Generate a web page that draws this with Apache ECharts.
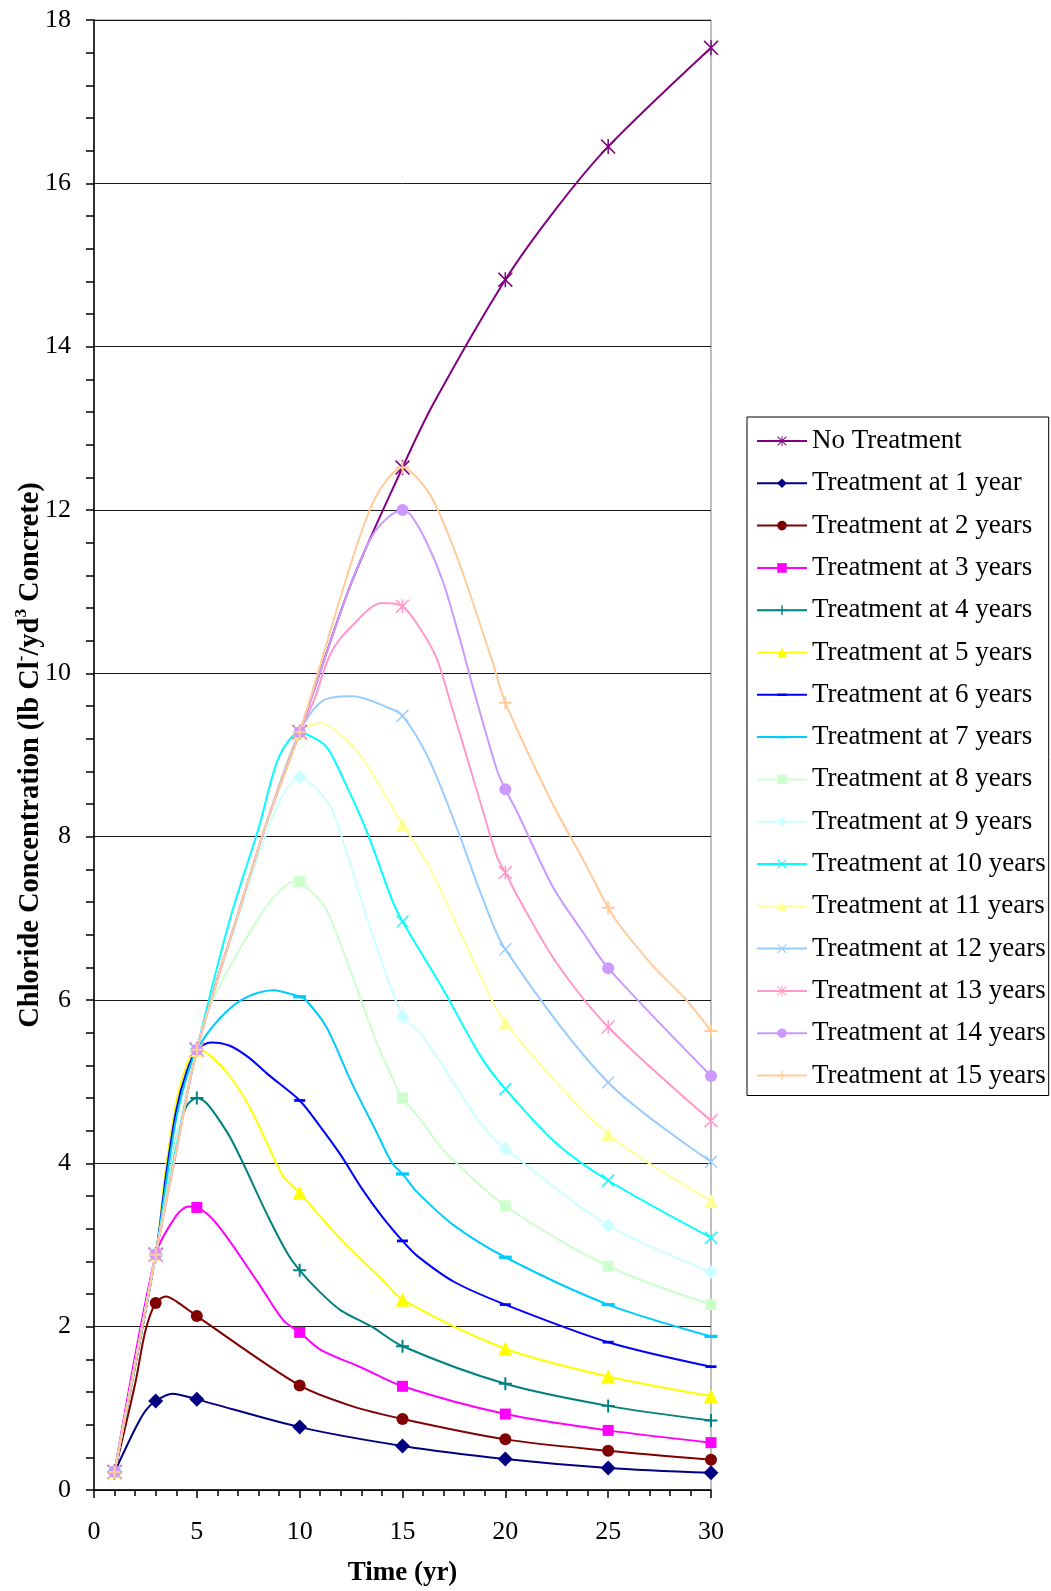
<!DOCTYPE html>
<html>
<head>
<meta charset="utf-8">
<script src="https://cdn.jsdelivr.net/npm/echarts/dist/echarts.min.js"></script>
<style>
  html, body { margin: 0; padding: 0; background: #ffffff; }
  #chart { width: 1051px; height: 1591px; }
</style>
</head>
<body>
<div id="chart"></div>
<script>
// Sample years that carry a marker on every curve
const years = [1, 3, 5, 10, 15, 20, 25, 30];

// Chloride concentration (lb Cl-/yd3) at the marker years
const noTreatment = [0.22, 2.88, 5.39, 9.28, 12.52, 14.82, 16.45, 17.66];
const treat1  = [0.22, 1.09, 1.11, 0.77, 0.54, 0.38, 0.27, 0.21];
const treat2  = [0.22, 2.29, 2.13, 1.28, 0.87, 0.62, 0.48, 0.37];
const treat3  = [0.22, 2.88, 3.46, 1.93, 1.27, 0.93, 0.73, 0.58];
const treat4  = [0.22, 2.88, 4.80, 2.69, 1.76, 1.30, 1.03, 0.85];
const treat5  = [0.22, 2.88, 5.39, 3.64, 2.33, 1.73, 1.39, 1.15];
const treat6  = [0.22, 2.88, 5.39, 4.77, 3.05, 2.27, 1.81, 1.51];
const treat7  = [0.22, 2.88, 5.39, 6.04, 3.87, 2.85, 2.27, 1.88];
const treat8  = [0.22, 2.88, 5.39, 7.45, 4.80, 3.48, 2.74, 2.27];
const treat9  = [0.22, 2.88, 5.39, 8.73, 5.80, 4.18, 3.24, 2.67];
const treat10 = [0.22, 2.88, 5.39, 9.28, 6.96, 4.91, 3.79, 3.09];
const treat11 = [0.22, 2.88, 5.39, 9.28, 8.15, 5.72, 4.36, 3.54];
const treat12 = [0.22, 2.88, 5.39, 9.28, 9.48, 6.62, 4.99, 4.02];
const treat13 = [0.22, 2.88, 5.39, 9.28, 10.82, 7.56, 5.67, 4.52];
const treat14 = [0.22, 2.88, 5.39, 9.28, 12.00, 8.58, 6.39, 5.07];
const treat15 = [0.22, 2.88, 5.39, 9.28, 12.52, 9.64, 7.13, 5.62];

// Additional computed points between the marker years (drawn without markers)
const noTreatmentMid = [[7, 7.05], [8.5, 8.25], [12.5, 11.1], [16.5, 13.3], [22.5, 15.7]];
const treat1Mid  = [[2, 0.75], [2.5, 0.97], [3.8, 1.18]];
const treat2Mid  = [[2, 1.3], [2.5, 1.95], [3.5, 2.37], [4, 2.31], [12.5, 1.03]];
const treat3Mid  = [[4, 3.36], [4.6, 3.47], [6, 3.25], [8, 2.53], [9.2, 2.08], [11, 1.72], [13, 1.5]];
const treat4Mid  = [[4, 4.3], [4.5, 4.7], [5.5, 4.73], [6.5, 4.37], [7.1, 4.08], [8.5, 3.33], [9.4, 2.9], [11, 2.42], [12, 2.2], [13.5, 2.0]];
const treat5Mid  = [[3.5, 3.95], [4, 4.75], [4.5, 5.2], [5.5, 5.35], [6.5, 5.1], [7.5, 4.72], [8.5, 4.2], [9.2, 3.84], [11, 3.35], [12, 3.07], [13, 2.82], [14, 2.58]];
const treat6Mid  = [[3.5, 3.85], [4, 4.65], [4.5, 5.12], [5.7, 5.48], [6.6, 5.44], [7.5, 5.3], [8.5, 5.08], [11, 4.45], [12, 4.1], [13, 3.7], [14, 3.35], [15.7, 2.87], [17.5, 2.55]];
const treat7Mid  = [[3.5, 3.75], [4, 4.55], [4.5, 5.05], [6.1, 5.77], [7.3, 6.02], [8.7, 6.12], [10.3, 6.0], [11.3, 5.67], [12.5, 5.0], [13.7, 4.4], [14.5, 4.0], [15.7, 3.65], [17.5, 3.24]];
const treat8Mid  = [[4, 4.3], [5.5, 5.85], [6.6, 6.41], [7.75, 6.9], [8.6, 7.22], [9.5, 7.43], [10.3, 7.39], [11.2, 7.15], [12.1, 6.61], [13.7, 5.51], [14.7, 4.94], [15.9, 4.53], [17, 4.16]];
const treat9Mid  = [[4, 4.25], [7, 7.0], [8.9, 8.37], [10.7, 8.61], [11.5, 8.37], [12.3, 7.8], [13.3, 6.98], [15.9, 5.59], [18.8, 4.49]];
const treat10Mid = [[4, 4.2], [6.6, 6.98], [8, 8.1], [9, 8.98], [10.3, 9.26], [11.3, 9.1], [12.3, 8.61], [13.3, 8.04], [14.5, 7.22], [17, 6.12], [18.8, 5.31], [22.5, 4.24]];
const treat11Mid = [[4, 4.15], [7, 7.05], [8.5, 8.25], [11, 9.39], [12, 9.25], [13.1, 8.94], [16.3, 7.63], [18.8, 6.29]];
const treat12Mid = [[4, 4.15], [7, 7.05], [8.5, 8.25], [11.15, 9.67], [12.6, 9.72], [14.2, 9.59], [16.3, 8.94], [17.8, 8.0], [18.8, 7.31]];
const treat13Mid = [[4, 4.15], [7, 7.05], [8.5, 8.25], [10.7, 9.67], [11.5, 10.24], [12.5, 10.57], [14, 10.86], [16, 10.49], [16.7, 10.16], [17.3, 9.67], [18.8, 8.41], [19.6, 7.75], [20.7, 7.22], [22.5, 6.45]];
const treat14Mid = [[4, 4.15], [7, 7.05], [8.5, 8.25], [12.5, 11.1], [13.7, 11.75], [15.4, 11.94], [16.2, 11.59], [17, 11.1], [17.8, 10.41], [18.5, 9.76], [19.6, 8.81], [20.6, 8.29], [22.3, 7.39], [23.8, 6.82]];
const treat15Mid = [[4, 4.15], [7, 7.05], [8.5, 8.25], [12.45, 11.31], [13.7, 12.16], [16.2, 12.24], [17, 11.84], [18, 11.18], [19.4, 10.12], [22.3, 8.4], [23.8, 7.71], [25.6, 6.9], [27.2, 6.41], [28.8, 6.0]];

// Axis ticks
const xTicks = { min: 0, max: 30, interval: 5 };
const yTicks = { min: 0, max: 18, interval: 2 };

// Marker shapes
const PLUS = 'path://M8.5,0h3v20h-3zM0,8.5h20v3h-20z';
const CROSS = 'path://M1.5,0L10,8.5L18.5,0L20,1.5L11.5,10L20,18.5L18.5,20L10,11.5L1.5,20L0,18.5L8.5,10L0,1.5Z';
const STAR = CROSS + 'M9,0h2v20h-2z';
const DASH = 'path://M0,0L0,0M20,20L20,20M0,7.5h20v5h-20z';

const FONT = 'Liberation Serif, Times New Roman, serif';

const defs = [
  { name: 'No Treatment',          color: '#800080', symbol: STAR,      size: 15, marks: noTreatment, mids: noTreatmentMid },
  { name: 'Treatment at 1 year',   color: '#000080', symbol: 'diamond', size: 15, marks: treat1,  mids: treat1Mid },
  { name: 'Treatment at 2 years',  color: '#800000', symbol: 'circle',  size: 12, marks: treat2,  mids: treat2Mid },
  { name: 'Treatment at 3 years',  color: '#FF00FF', symbol: 'rect',    size: 11, marks: treat3,  mids: treat3Mid },
  { name: 'Treatment at 4 years',  color: '#008080', symbol: PLUS,      size: 13, marks: treat4,  mids: treat4Mid },
  { name: 'Treatment at 5 years',  color: '#FFFF00', symbol: 'triangle',size: 14, marks: treat5,  mids: treat5Mid },
  { name: 'Treatment at 6 years',  color: '#0000FF', symbol: DASH,      size: 11, marks: treat6,  mids: treat6Mid },
  { name: 'Treatment at 7 years',  color: '#00CCFF', symbol: DASH,      size: 13, marks: treat7,  mids: treat7Mid },
  { name: 'Treatment at 8 years',  color: '#CCFFCC', symbol: 'rect',    size: 11, marks: treat8,  mids: treat8Mid },
  { name: 'Treatment at 9 years',  color: '#CCFFFF', symbol: 'diamond', size: 14, marks: treat9,  mids: treat9Mid },
  { name: 'Treatment at 10 years', color: '#00FFFF', symbol: CROSS,     size: 13, marks: treat10, mids: treat10Mid },
  { name: 'Treatment at 11 years', color: '#FFFF99', symbol: 'triangle',size: 14, marks: treat11, mids: treat11Mid },
  { name: 'Treatment at 12 years', color: '#99CCFF', symbol: CROSS,     size: 13, marks: treat12, mids: treat12Mid },
  { name: 'Treatment at 13 years', color: '#FF99CC', symbol: STAR,      size: 14, marks: treat13, mids: treat13Mid },
  { name: 'Treatment at 14 years', color: '#CC99FF', symbol: 'circle',  size: 12, marks: treat14, mids: treat14Mid },
  { name: 'Treatment at 15 years', color: '#FFCC99', symbol: PLUS,      size: 13, marks: treat15, mids: treat15Mid }
];

function buildData(marks, mids) {
  const pts = years.map((x, i) => ({ value: [x, marks[i]] }));
  mids.forEach(p => pts.push({ value: p, symbol: 'none' }));
  pts.sort((a, b) => a.value[0] - b.value[0]);
  return pts;
}

const series = defs.map(d => ({
  name: d.name,
  type: 'line',
  smooth: 0.3,
  symbol: d.symbol,
  symbolSize: d.size,
  showAllSymbol: true,
  lineStyle: { color: d.color, width: 2 },
  itemStyle: { color: d.color, borderWidth: 0 },
  emphasis: { disabled: true },
  data: buildData(d.marks, d.mids)
}));

const chart = echarts.init(document.getElementById('chart'), null, { renderer: 'canvas' });
chart.setOption({
  animation: false,
  backgroundColor: '#ffffff',
  grid: {
    left: 94, top: 20, right: 340, bottom: 101,
    outerBoundsMode: 'none',
    containLabel: false,
    show: true, borderColor: '#808080', borderWidth: 1, backgroundColor: 'transparent'
  },
  legend: {
    orient: 'vertical',
    left: 747, top: 417,
    padding: [9, 3, 5, 9],
    itemWidth: 50, itemHeight: 12, itemGap: 12.3,
    borderColor: '#000', borderWidth: 1,
    selectedMode: false,
    textStyle: { fontFamily: FONT, fontSize: 27, color: '#000', lineHeight: 30 },
    data: defs.map(d => d.name)
  },
  xAxis: {
    type: 'value',
    min: xTicks.min, max: xTicks.max, interval: xTicks.interval,
    name: 'Time (yr)',
    nameLocation: 'middle',
    nameGap: 70,
    nameMoveOverlap: false,
    nameTextStyle: { fontFamily: FONT, fontSize: 27, fontWeight: 'bold', color: '#000' },
    axisLine: { show: true, lineStyle: { color: '#000', width: 1.5 } },
    axisTick: { show: true, inside: false, length: 8, lineStyle: { color: '#000', width: 1.5 } },
    minorTick: { show: true, splitNumber: 5, length: 6, lineStyle: { color: '#000', width: 1.5 } },
    axisLabel: { fontFamily: FONT, fontSize: 26, color: '#000', margin: 29 },
    splitLine: { show: false }
  },
  yAxis: {
    type: 'value',
    min: yTicks.min, max: yTicks.max, interval: yTicks.interval,
    name: '{b|Chloride Concentration (lb Cl}{s|-}{b|/yd}{s|3}{b| Concrete)}',
    nameLocation: 'middle',
    nameGap: 49,
    nameMoveOverlap: false,
    nameRotate: 90,
    nameTextStyle: {
      fontFamily: FONT, fontSize: 28.5, fontWeight: 'bold', color: '#000',
      rich: {
        b: { fontFamily: FONT, fontSize: 28.5, fontWeight: 'bold', color: '#000', lineHeight: 32, verticalAlign: 'bottom' },
        s: { fontFamily: FONT, fontSize: 17, fontWeight: 'bold', color: '#000', lineHeight: 32, verticalAlign: 'top' }
      }
    },
    axisLine: { show: true, lineStyle: { color: '#000', width: 1.5 } },
    axisTick: { show: true, inside: false, length: 8, lineStyle: { color: '#000', width: 1.5 } },
    minorTick: { show: true, splitNumber: 5, length: 8, lineStyle: { color: '#000', width: 1.5 } },
    axisLabel: { fontFamily: FONT, fontSize: 26, color: '#000', margin: 23 },
    splitLine: { show: true, lineStyle: { color: '#1a1a1a', width: 1 } }
  },
  tooltip: { show: false },
  series: series
});
</script>
</body>
</html>
